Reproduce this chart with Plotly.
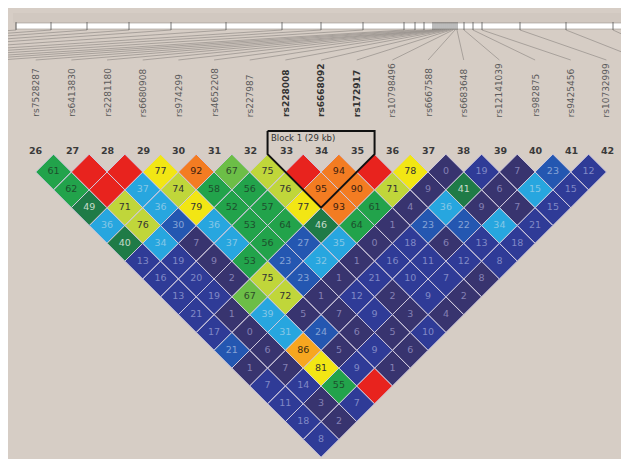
import plotly.graph_objects as go

# ---------------- data ----------------
snp_ids = list(range(26, 43))
snp_names = ["rs7528287", "rs6413830", "rs2281180", "rs6680908", "rs974299",
             "rs4652208", "rs227987", "rs228008", "rs6668092", "rs172917",
             "rs10798496", "rs6667588", "rs6683648", "rs12141039", "rs982875",
             "rs9425456", "rs10732999"]
block_snps = [33, 34, 35]
block_label = "Block 1 (29 kb)"

# D' (x100) by marker distance: row r holds pairs (i, i+r); 100 = red, not printed
dprime_rows = [
    [61, 100, 100, 77, 92, 67, 75, 100, 94, 100, 78, 0, 19, 7, 23, 12],
    [62, 100, 37, 74, 58, 56, 76, 95, 90, 71, 9, 41, 6, 15, 15],
    [49, 71, 36, 79, 52, 57, 77, 93, 61, 4, 36, 9, 7, 15],
    [36, 76, 30, 36, 53, 64, 46, 64, 1, 23, 22, 34, 21],
    [40, 34, 7, 37, 56, 27, 35, 0, 18, 6, 13, 18],
    [13, 19, 9, 53, 23, 32, 1, 16, 11, 12, 8],
    [16, 20, 2, 75, 23, 1, 21, 10, 7, 8],
    [13, 19, 67, 72, 1, 12, 2, 9, 2],
    [21, 1, 39, 5, 7, 9, 3, 4],
    [17, 0, 31, 24, 6, 5, 10],
    [21, 6, 86, 5, 9, 6],
    [1, 7, 81, 9, 1],
    [7, 14, 55, 100],
    [11, 3, 7],
    [18, 2],
    [8],
]
# colour class of each cell (depends on D' and LOD), same layout
level_rows = [
    [5, 11, 11, 8, 10, 6, 7, 11, 10, 11, 8, 0, 1, 0, 2, 1],
    [5, 11, 3, 7, 5, 5, 7, 10, 10, 7, 0, 4, 0, 3, 1],
    [4, 7, 3, 8, 5, 5, 8, 10, 5, 0, 3, 0, 0, 1],
    [3, 7, 2, 3, 5, 5, 4, 5, 0, 2, 2, 3, 1],
    [4, 3, 0, 3, 5, 2, 3, 0, 1, 0, 1, 1],
    [1, 1, 0, 5, 2, 3, 0, 1, 1, 1, 1],
    [1, 1, 0, 7, 2, 0, 1, 1, 1, 0],
    [1, 1, 6, 7, 0, 1, 0, 1, 0],
    [1, 0, 3, 0, 0, 1, 0, 0],
    [1, 0, 3, 2, 0, 0, 1],
    [2, 0, 9, 0, 1, 0],
    [0, 0, 8, 1, 0],
    [1, 1, 5, 11],
    [1, 0, 1],
    [1, 0],
    [1],
]
# physical map positions (arbitrary kb units along the map bar)
map_left = [0, 35, 71, 113, 155, 210, 266, 305, 347, 388, 399, 408]      # SNPs 14-25
map_main = [417, 419, 421, 423, 425, 427, 429, 431, 433, 435, 437, 439, 441,
            448, 457, 466, 504]                                            # SNPs 26-42
map_right = [550, 597]                                                     # SNPs 43-44
map_len = 615

# ---------------- style ----------------
palette = ["#38346F", "#2F3B97", "#2457B1", "#27A6DF", "#1F7B47", "#22A34B",
           "#6CBE47", "#C0D63A", "#F2E614", "#F7A620", "#F37C22", "#E8231E"]
text_cols = ["#8480B4", "#8089C6", "#86A3D6", "#86C6E6", "#C8DCCB", "#1D4F2D",
             "#2E4A2A", "#333333", "#333333", "#3A2A10", "#3A2010", "#E8231E"]
BG = "#D6CDC5"
X0, DX, Y1, DY = 27.7, 35.67, 164.0, 17.83
W, H = 629, 459


def fu(px):
    return (px - X0) / DX


def fr(py):
    return (py - Y1) / DY + 1


fig = go.Figure()

# diamonds grouped by colour class
n = len(snp_ids)
for lvl, col in enumerate(palette):
    xs, ys = [], []
    for r, (vals, lvls) in enumerate(zip(dprime_rows, level_rows), start=1):
        for i, lv in enumerate(lvls):
            if lv != lvl:
                continue
            u = i + r / 2.0
            xs += [u, u + 0.5, u, u - 0.5, u, None]
            ys += [r - 1, r, r + 1, r, r - 1, None]
    if xs:
        fig.add_trace(go.Scatter(x=xs, y=ys, mode="lines", fill="toself",
                                 fillcolor=col, line=dict(color="#CFC9DD", width=1),
                                 hoverinfo="skip", showlegend=False))

# cell numbers
tx, ty, tt, tc = [], [], [], []
for r, (vals, lvls) in enumerate(zip(dprime_rows, level_rows), start=1):
    for i, (v, lv) in enumerate(zip(vals, lvls)):
        if v >= 100:
            continue
        tx.append(i + r / 2.0)
        ty.append(r)
        tt.append(str(v))
        tc.append(text_cols[lv])
fig.add_trace(go.Scatter(x=tx, y=ty, mode="text", text=tt,
                         textfont=dict(family="DejaVu Sans", size=9.5, color=tc),
                         hoverinfo="skip", showlegend=False))

# block outline
bi = [snp_ids.index(s) for s in block_snps]
a, b = bi[0], bi[-1]
top = fr(123)
fig.add_trace(go.Scatter(
    x=[a - 0.5, a - 0.5, (a + b) / 2.0, b + 0.5, b + 0.5, a - 0.5],
    y=[top, 0, (b - a) + 1, 0, top, top],
    mode="lines", line=dict(color="#111111", width=2),
    hoverinfo="skip", showlegend=False))

shapes = []
# physical map strip
bar_l, bar_r = 8, 623
shapes.append(dict(type="rect", xref="x", yref="y", x0=fu(5), x1=fu(626), y0=fr(5), y1=fr(15),
                   fillcolor="#D1C8C0", line=dict(width=0), layer="below"))
shapes.append(dict(type="rect", xref="x", yref="y", x0=fu(bar_l), x1=fu(bar_r), y0=fr(15), y1=fr(21),
                   fillcolor="#FFFFFF", line=dict(color="#9A948E", width=0.6), layer="below"))

def map_px(kb):
    return bar_l + kb / map_len * (bar_r - bar_l)

all_pos = map_left + map_main + map_right
all_lab = list(range(-len(map_left), 0)) + list(range(n)) + list(range(n, n + len(map_right)))
lx, ly = [], []
for kb, k in zip(all_pos, all_lab):
    p = map_px(kb)
    shapes.append(dict(type="line", xref="x", yref="y", x0=fu(p), x1=fu(p), y0=fr(14), y1=fr(22),
                       line=dict(color="#555555", width=0.8)))
    lx += [fu(p), k, None]
    ly += [fr(22), fr(52), None]
fig.add_trace(go.Scatter(x=lx, y=ly, mode="lines", line=dict(color="#9C9690", width=0.8),
                         hoverinfo="skip", showlegend=False))

annotations = []
for k, (sid, name) in enumerate(zip(snp_ids, snp_names)):
    bold = sid in block_snps
    annotations.append(dict(x=k, y=fr(111), xref="x", yref="y", text=f"<b>{name}</b>" if bold else name,
                            textangle=-90, showarrow=False, xanchor="center", yanchor="bottom",
                            font=dict(family="DejaVu Sans", size=9, color="#333333" if bold else "#5A5A5A")))
    annotations.append(dict(x=k + 0.02, y=fr(142), xref="x", yref="y", text=f"<b>{sid}</b>",
                            showarrow=False, xanchor="center", yanchor="middle",
                            font=dict(family="DejaVu Sans", size=9.5, color="#3A3A3A")))
annotations.append(dict(x=a - 0.45, y=fr(129.5), xref="x", yref="y", text=block_label,
                        showarrow=False, xanchor="left", yanchor="middle",
                        font=dict(family="DejaVu Sans", size=8.5, color="#333333")))

fig.update_layout(
    width=W, height=H, margin=dict(l=0, r=0, t=0, b=0, pad=0),
    paper_bgcolor=BG, plot_bgcolor=BG,
    xaxis=dict(range=[fu(0), fu(W)], visible=False, fixedrange=True),
    yaxis=dict(range=[fr(H), fr(0)], visible=False, fixedrange=True),
    shapes=shapes, annotations=annotations, showlegend=False,
)

fig.write_html("out.html")
